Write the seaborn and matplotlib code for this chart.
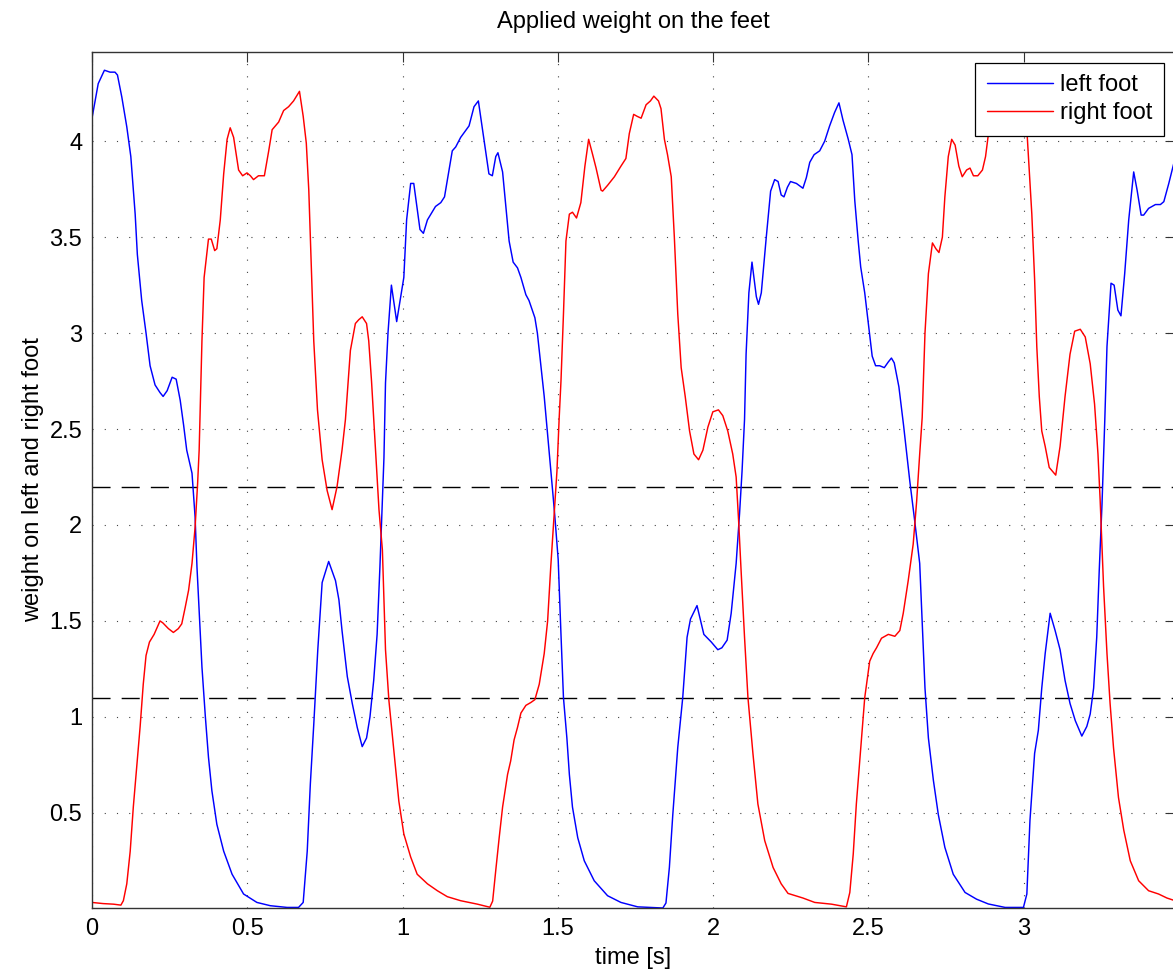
import numpy as np
import pandas as pd
import seaborn as sns
import matplotlib
matplotlib.use("Agg")
import matplotlib.pyplot as plt

# ---------------- data ----------------
t_left = [0.000, 0.020, 0.040, 0.058, 0.074, 0.082, 0.096, 0.112, 0.125, 0.139, 0.146, 0.160, 0.174, 0.187, 0.203,
          0.219, 0.229, 0.242, 0.258, 0.271, 0.284, 0.295, 0.305, 0.322, 0.332, 0.338, 0.346, 0.354, 0.365, 0.375,
          0.386, 0.402, 0.424, 0.451, 0.488, 0.531, 0.574, 0.628, 0.665, 0.680, 0.693, 0.703, 0.714, 0.727, 0.741,
          0.762, 0.784, 0.795, 0.805, 0.822, 0.838, 0.854, 0.870, 0.884, 0.895, 0.907, 0.918, 0.927, 0.935, 0.940,
          0.945, 0.953, 0.964, 0.981, 0.996, 1.004, 1.013, 1.026, 1.036, 1.056, 1.067, 1.080, 1.106, 1.123, 1.135,
          1.160, 1.171, 1.187, 1.214, 1.230, 1.244, 1.262, 1.278, 1.289, 1.300, 1.307, 1.322, 1.343, 1.356, 1.370,
          1.381, 1.397, 1.407, 1.426, 1.434, 1.456, 1.461, 1.483, 1.490, 1.501, 1.510, 1.518, 1.529, 1.537, 1.547,
          1.564, 1.585, 1.617, 1.660, 1.703, 1.757, 1.838, 1.848, 1.859, 1.870, 1.886, 1.902, 1.916, 1.927, 1.948,
          1.970, 1.994, 2.015, 2.028, 2.045, 2.058, 2.074, 2.085, 2.093, 2.101, 2.106, 2.115, 2.125, 2.139, 2.146,
          2.155, 2.171, 2.185, 2.198, 2.209, 2.219, 2.228, 2.239, 2.249, 2.268, 2.289, 2.300, 2.311, 2.325, 2.343,
          2.359, 2.375, 2.391, 2.405, 2.418, 2.435, 2.447, 2.456, 2.467, 2.475, 2.488, 2.501, 2.512, 2.523, 2.536,
          2.551, 2.564, 2.574, 2.583, 2.598, 2.613, 2.633, 2.649, 2.665, 2.673, 2.682, 2.693, 2.709, 2.725, 2.746,
          2.773, 2.811, 2.848, 2.886, 2.940, 2.999, 3.010, 3.020, 3.035, 3.047, 3.058, 3.069, 3.085, 3.101, 3.117,
          3.133, 3.149, 3.166, 3.187, 3.203, 3.214, 3.225, 3.235, 3.243, 3.252, 3.261, 3.268, 3.281, 3.291, 3.303,
          3.313, 3.325, 3.338, 3.354, 3.365, 3.378, 3.386, 3.402, 3.424, 3.440, 3.451, 3.467, 3.487]
w_left = [4.12, 4.30, 4.37, 4.36, 4.36, 4.345, 4.23, 4.075, 3.92, 3.62, 3.41, 3.17, 3.00, 2.83, 2.73,
          2.69, 2.67, 2.70, 2.77, 2.76, 2.65, 2.52, 2.39, 2.27, 2.04, 1.78, 1.52, 1.26, 1.00, 0.79,
          0.615, 0.44, 0.30, 0.18, 0.077, 0.033, 0.016, 0.007, 0.007, 0.033, 0.30, 0.65, 0.96, 1.35, 1.70,
          1.81, 1.71, 1.61, 1.45, 1.21, 1.07, 0.945, 0.845, 0.89, 1.00, 1.19, 1.43, 1.78, 2.13, 2.35,
          2.74, 3.00, 3.25, 3.06, 3.21, 3.29, 3.59, 3.78, 3.78, 3.54, 3.52, 3.59, 3.66, 3.68, 3.71,
          3.95, 3.97, 4.02, 4.08, 4.18, 4.21, 4.01, 3.83, 3.82, 3.92, 3.94, 3.84, 3.48, 3.37, 3.34,
          3.29, 3.20, 3.17, 3.08, 3.00, 2.67, 2.58, 2.18, 2.05, 1.82, 1.43, 1.10, 0.89, 0.70, 0.53,
          0.37, 0.25, 0.146, 0.068, 0.033, 0.010, 0.004, 0.03, 0.215, 0.49, 0.84, 1.10, 1.415, 1.51, 1.58,
          1.43, 1.39, 1.35, 1.36, 1.40, 1.54, 1.80, 2.06, 2.28, 2.55, 2.89, 3.21, 3.37, 3.19, 3.15,
          3.21, 3.50, 3.74, 3.80, 3.79, 3.72, 3.71, 3.76, 3.79, 3.78, 3.755, 3.81, 3.89, 3.93, 3.95,
          4.00, 4.08, 4.15, 4.20, 4.11, 4.01, 3.93, 3.69, 3.48, 3.345, 3.21, 3.03, 2.88, 2.83, 2.83,
          2.82, 2.85, 2.87, 2.845, 2.72, 2.52, 2.23, 2.02, 1.80, 1.50, 1.15, 0.89, 0.67, 0.49, 0.32,
          0.18, 0.085, 0.05, 0.025, 0.007, 0.007, 0.077, 0.46, 0.81, 0.93, 1.15, 1.33, 1.54, 1.45, 1.35,
          1.19, 1.07, 0.98, 0.90, 0.95, 1.015, 1.15, 1.415, 1.76, 2.11, 2.55, 2.93, 3.26, 3.25, 3.12,
          3.09, 3.31, 3.59, 3.84, 3.745, 3.615, 3.615, 3.65, 3.67, 3.67, 3.685, 3.78, 3.91]

t_right = [0.000, 0.036, 0.069, 0.093, 0.101, 0.112, 0.123, 0.133, 0.144, 0.155, 0.165, 0.174, 0.185, 0.200, 0.219,
           0.228, 0.246, 0.262, 0.278, 0.289, 0.300, 0.311, 0.322, 0.332, 0.340, 0.345, 0.354, 0.361, 0.375, 0.384,
           0.395, 0.402, 0.413, 0.424, 0.435, 0.445, 0.456, 0.472, 0.485, 0.499, 0.510, 0.520, 0.536, 0.555, 0.569,
           0.580, 0.601, 0.617, 0.633, 0.649, 0.668, 0.680, 0.690, 0.698, 0.705, 0.714, 0.726, 0.741, 0.757, 0.773,
           0.789, 0.805, 0.816, 0.832, 0.848, 0.859, 0.870, 0.884, 0.891, 0.900, 0.913, 0.924, 0.935, 0.945, 0.956,
           0.972, 0.988, 1.004, 1.026, 1.047, 1.080, 1.112, 1.144, 1.187, 1.241, 1.281, 1.290, 1.300, 1.311, 1.322,
           1.338, 1.348, 1.359, 1.370, 1.381, 1.397, 1.413, 1.426, 1.440, 1.456, 1.467, 1.477, 1.488, 1.497, 1.504,
           1.510, 1.518, 1.526, 1.537, 1.547, 1.560, 1.574, 1.587, 1.599, 1.612, 1.623, 1.639, 1.644, 1.660, 1.682,
           1.703, 1.719, 1.730, 1.744, 1.755, 1.768, 1.784, 1.798, 1.809, 1.824, 1.832, 1.843, 1.853, 1.865, 1.875,
           1.886, 1.897, 1.910, 1.924, 1.938, 1.953, 1.967, 1.983, 1.999, 2.017, 2.031, 2.047, 2.063, 2.074, 2.082,
           2.090, 2.101, 2.112, 2.128, 2.144, 2.166, 2.193, 2.219, 2.241, 2.289, 2.327, 2.381, 2.429, 2.440, 2.451,
           2.461, 2.477, 2.488, 2.504, 2.515, 2.526, 2.542, 2.564, 2.585, 2.601, 2.612, 2.628, 2.644, 2.655, 2.665,
           2.673, 2.682, 2.693, 2.706, 2.717, 2.727, 2.738, 2.746, 2.757, 2.768, 2.779, 2.791, 2.802, 2.816, 2.827,
           2.838, 2.852, 2.867, 2.877, 2.888, 2.903, 2.929, 2.955, 2.971, 2.987, 3.000, 3.010, 3.015, 3.026, 3.035,
           3.042, 3.050, 3.058, 3.069, 3.082, 3.103, 3.117, 3.133, 3.149, 3.164, 3.182, 3.198, 3.214, 3.228, 3.239,
           3.246, 3.257, 3.268, 3.278, 3.289, 3.305, 3.322, 3.343, 3.370, 3.402, 3.434, 3.461, 3.487]
w_right = [0.033, 0.027, 0.024, 0.019, 0.042, 0.13, 0.30, 0.53, 0.74, 0.95, 1.17, 1.32, 1.39, 1.43, 1.50,
           1.49, 1.46, 1.44, 1.46, 1.485, 1.57, 1.66, 1.80, 1.99, 2.215, 2.39, 2.96, 3.29, 3.49, 3.49,
           3.43, 3.44, 3.59, 3.83, 4.01, 4.07, 4.02, 3.85, 3.82, 3.835, 3.82, 3.80, 3.82, 3.82, 3.95,
           4.06, 4.10, 4.16, 4.18, 4.21, 4.26, 4.13, 3.99, 3.745, 3.40, 2.96, 2.60, 2.34, 2.18, 2.08,
           2.20, 2.39, 2.55, 2.91, 3.05, 3.07, 3.085, 3.05, 2.96, 2.75, 2.39, 2.08, 1.87, 1.35, 1.085,
           0.82, 0.56, 0.39, 0.27, 0.18, 0.13, 0.094, 0.063, 0.042, 0.024, 0.008, 0.04, 0.20, 0.37, 0.53,
           0.70, 0.77, 0.88, 0.945, 1.02, 1.06, 1.075, 1.09, 1.17, 1.33, 1.50, 1.78, 2.06, 2.28, 2.55,
           2.75, 3.10, 3.48, 3.62, 3.63, 3.60, 3.68, 3.87, 4.01, 3.93, 3.86, 3.745, 3.74, 3.77, 3.815,
           3.87, 3.91, 4.04, 4.14, 4.13, 4.12, 4.19, 4.21, 4.235, 4.21, 4.17, 4.01, 3.93, 3.815, 3.50,
           3.10, 2.82, 2.67, 2.49, 2.37, 2.34, 2.39, 2.51, 2.59, 2.60, 2.57, 2.49, 2.37, 2.25, 2.02,
           1.76, 1.415, 1.10, 0.81, 0.546, 0.355, 0.215, 0.13, 0.08, 0.056, 0.033, 0.024, 0.010, 0.085, 0.285,
           0.546, 0.876, 1.10, 1.29, 1.33, 1.36, 1.41, 1.43, 1.42, 1.45, 1.54, 1.71, 1.90, 2.12, 2.37,
           2.56, 3.00, 3.31, 3.47, 3.44, 3.42, 3.50, 3.71, 3.92, 4.01, 3.98, 3.87, 3.815, 3.85, 3.86,
           3.82, 3.82, 3.85, 3.92, 4.06, 4.16, 4.24, 4.28, 4.29, 4.25, 4.15, 4.06, 3.92, 3.62, 3.28,
           2.93, 2.67, 2.49, 2.41, 2.30, 2.26, 2.41, 2.67, 2.89, 3.01, 3.02, 2.98, 2.84, 2.63, 2.37,
           2.13, 1.68, 1.33, 1.07, 0.84, 0.58, 0.41, 0.25, 0.146, 0.094, 0.077, 0.056, 0.042]

thresholds = [2.2, 1.1]
x_ticks = [0, 0.5, 1, 1.5, 2, 2.5, 3]
y_ticks = [0.5, 1, 1.5, 2, 2.5, 3, 3.5, 4]
series_names = ["left foot", "right foot"]

assert len(t_left) == len(w_left), (len(t_left), len(w_left))
assert len(t_right) == len(w_right), (len(t_right), len(w_right))

df = pd.concat([
    pd.DataFrame({"time": t_left, "weight": w_left, "foot": series_names[0]}),
    pd.DataFrame({"time": t_right, "weight": w_right, "foot": series_names[1]}),
], ignore_index=True)

# ---------------- style ----------------
sns.set_style("white")
plt.rcParams["font.family"] = ["Liberation Sans", "DejaVu Sans"]
plt.rcParams["text.color"] = "black"
plt.rcParams["axes.labelcolor"] = "black"
plt.rcParams["xtick.color"] = "black"
plt.rcParams["ytick.color"] = "black"

FS = 17
W, H = 1173, 972
fig = plt.figure(figsize=(W / 100, H / 100), dpi=100)
left, bottom = 92 / W, 1 - 908 / H
top = 1 - 52 / H
right = 1 + 2 / W
ax = fig.add_axes([left, bottom, right - left, top - bottom])

sns.lineplot(data=df, x="time", y="weight", hue="foot", palette={"left foot": "#0000ff", "right foot": "#ff0000"},
             estimator=None, sort=False, linewidth=1.05, ax=ax)

for th in thresholds:
    ax.axhline(th, color="black", linestyle=(0, (13, 8)), linewidth=1.0, zorder=1)

ax.set_xlim(0, 3.487)
ax.set_ylim(0.004, 4.465)
ax.set_xticks(x_ticks)
ax.set_xticklabels(["0", "0.5", "1", "1.5", "2", "2.5", "3"])
ax.set_yticks(y_ticks)
ax.set_yticklabels(["0.5", "1", "1.5", "2", "2.5", "3", "3.5", "4"])

ax.grid(True, linestyle=(0, (1, 10)), color="#444444", linewidth=0.8)
ax.set_axisbelow(True)
ax.tick_params(direction="in", top=True, right=True, length=7, width=0.8, color="#333333",
               labelsize=FS, pad=7)
for s in ax.spines.values():
    s.set_color("#333333")
    s.set_linewidth(1.0)

ax.set_xlabel("time [s]", fontsize=FS, labelpad=5)
ax.set_ylabel("weight on left and right foot", fontsize=FS, labelpad=4)
ax.set_title("Applied weight on the feet", fontsize=FS, pad=17)

leg = ax.legend(loc="upper right", fontsize=FS, frameon=True, fancybox=False, framealpha=1,
                edgecolor="black", handlelength=2.8, handletextpad=0.3, borderpad=0.5,
                labelspacing=0.25, borderaxespad=0.45, title=None)
leg.get_frame().set_linewidth(0.9)
leg.set_zorder(10)

fig.savefig("out.png", dpi=100)
